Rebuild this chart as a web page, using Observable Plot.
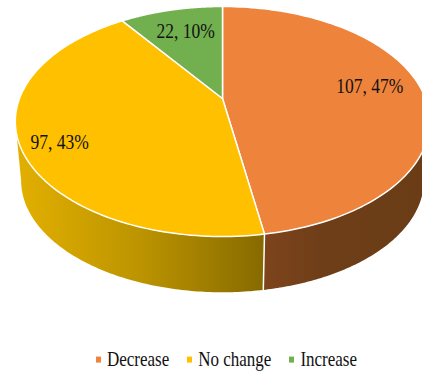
<!DOCTYPE html>
<html>
<head>
<meta charset="utf-8">
<script src="https://cdn.jsdelivr.net/npm/d3@7"></script>
<script src="https://cdn.jsdelivr.net/npm/@observablehq/plot@0.6"></script>
<style>
  html, body { margin: 0; padding: 0; background: #fff; overflow: hidden; }
  #chart { width: 422px; height: 345px; }
  #legend { display: flex; justify-content: center; width: 422px; margin-top: 9px; margin-left: 15.5px; height: 22px; align-items: center; transform: scaleY(1.2); }
  #legend, #legend * { font-family: "Liberation Serif", serif !important; font-size: 17px !important; color: #111 !important; }
  #legend span { margin-right: 18px !important; }
  #legend span:last-child { margin-right: 0 !important; }
  #legend svg { margin-right: 6px !important; }
</style>
</head>
<body>
<div id="chart"></div>
<script>
// Survey responses shown as a tilted 3-D pie.
const categories = ["Decrease", "No change", "Increase"];
const counts = [107, 97, 22];
const percents = [47, 43, 10];
const colors = ["#EE843C", "#FFC000", "#72AF4E"];
const labelRadius = [0.75, 0.83, 0.72];
const labelNudge = [-3.7, -4.2, 0.8];

// Projective tilt of the unit disc, and how the lower rim relates to the upper.
const tilt = 0.2;
const shrink = 0.972;
const drop = 0.54;

const total = d3.sum(counts);
const ends = d3.cumsum(counts).map(c => c / total * 360);
const starts = ends.map((_, i) => (i ? ends[i - 1] : 0));

function plane(deg, r = 1) {
  const a = deg * Math.PI / 180;
  const X = r * Math.sin(a), Y = -r * Math.cos(a);
  const d = 1 - tilt * Y;
  return {x: X / d, y: Y / d};
}
const lower = deg => {
  const p = plane(deg);
  return {x: p.x * shrink, y: p.y * shrink + drop};
};
const sweep = (a, b) => d3.range(0, 121).map(i => a + (b - a) * i / 120);

// Top faces: centre, along the rim, back to centre.
const faces = categories.flatMap((name, i) => {
  const rim = sweep(starts[i], ends[i]).map(t => ({name, ...plane(t)}));
  const c = {name, x: 0, y: 0};
  return [c, ...rim, c];
});

// The disc's silhouette touches the rim where the projected x is extreme.
const tangent = Math.asin(tilt) * 180 / Math.PI;
const wall = (a, b) => {
  const s = sweep(a, b);
  return [...s.map(t => plane(t)), ...s.slice().reverse().map(lower)];
};
const wallOrange = wall(90 + tangent, ends[0]);
const wallYellow = wall(ends[0], 270 - tangent);
const seam = [plane(ends[0]), lower(ends[0])];

const labels = categories.map((name, i) => {
  const mid = (starts[i] + ends[i]) / 2 + labelNudge[i];
  return {text: `${counts[i]}, ${percents[i]}%`, ...plane(mid, labelRadius[i])};
});

const width = 422, height = 345;
const kx = 203, ky = 110.4, ox = 222, oy = 98;

function gradient(id, stops) {
  const g = d3.create("svg:linearGradient").attr("id", id);
  stops.forEach(([o, c]) => g.append("stop").attr("offset", o).attr("stop-color", c));
  return g.node();
}
const defs = () => {
  const d = d3.create("svg:defs");
  d.append(() => gradient("wallY", [[0, "#E3B000"], [0.5, "#BC9400"], [1, "#866A00"]]));
  d.append(() => gradient("wallO", [[0, "#7E441C"], [0.35, "#6E3E18"], [1, "#6A3D17"]]));
  return d.node();
};

const plot = Plot.plot({
  width, height,
  margin: 0,
  x: {domain: [-ox / kx, (width - ox) / kx], range: [0, width], axis: null},
  y: {domain: [-oy / ky, (height - oy) / ky], range: [0, height], axis: null},
  color: {domain: categories, range: colors},
  style: {background: "transparent"},
  marks: [
    defs,
    Plot.line(wallYellow, {x: "x", y: "y", fill: "url(#wallY)", stroke: "none"}),
    Plot.line(wallOrange, {x: "x", y: "y", fill: "url(#wallO)", stroke: "none"}),
    Plot.line(seam, {x: "x", y: "y", stroke: "white", strokeWidth: 1.5}),
    Plot.line(faces, {x: "x", y: "y", z: "name", fill: "name", stroke: "white", strokeWidth: 1.5, strokeLinejoin: "round"}),
    Plot.text(labels, {x: "x", y: "y", text: "text", fontSize: 20, fontFamily: "Liberation Serif", fill: "#111"})
  ]
});
document.getElementById("chart").append(plot);

// Narrow the labels' glyphs so the tall serif figures keep their width.
plot.querySelectorAll("text").forEach(t => {
  t.setAttribute("textLength", t.getComputedTextLength() * 0.875);
  t.setAttribute("lengthAdjust", "spacingAndGlyphs");
});

const legend = plot.legend("color", {legend: "swatches", swatchSize: 5});
const wrap = document.createElement("div");
wrap.id = "legend";
wrap.append(legend);
document.body.append(wrap);
</script>
</body>
</html>
